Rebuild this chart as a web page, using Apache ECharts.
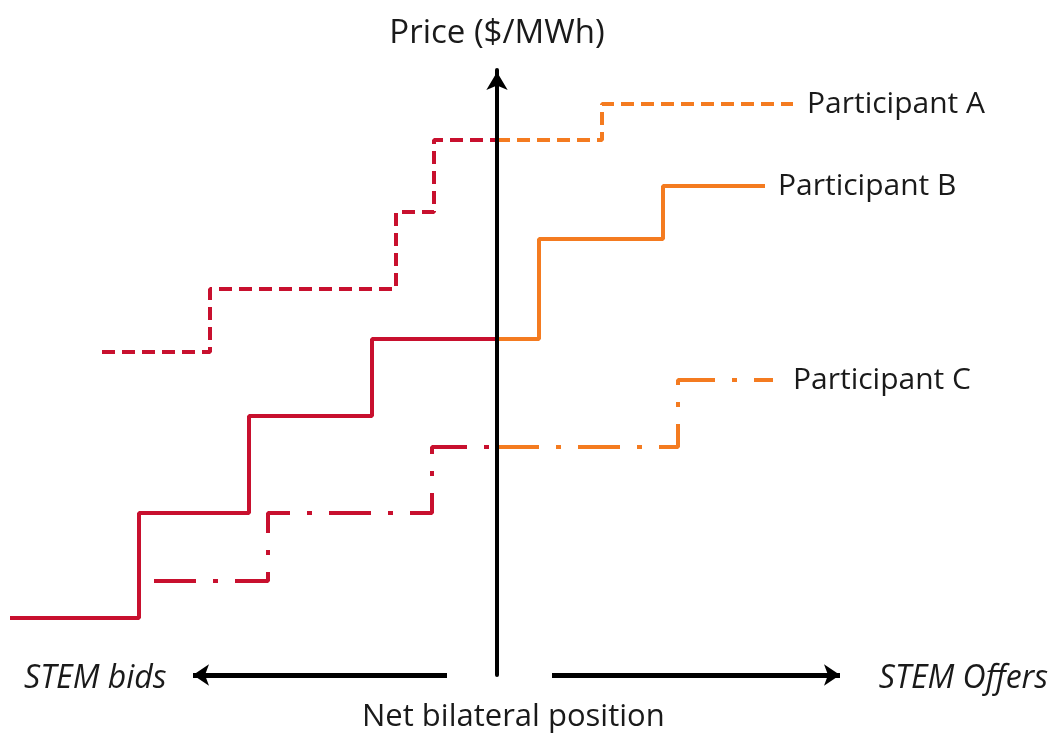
<!DOCTYPE html>
<html><head><meta charset="utf-8">
<script src="https://cdn.jsdelivr.net/npm/echarts@6/dist/echarts.min.js"></script>
<style>html,body{margin:0;padding:0;background:#fff}#c{width:1054px;height:735px}</style>
</head><body><div id="c"></div>
<script>
// Net bilateral position (x, MW-like units relative to 0) and price (y, $/MWh-like units)
const aBidX = [-395, -287, -101, -63, 0];
const aBidY = [32.3, 38.6, 46.3, 53.5, 53.5];
const aOfferX = [0, 105, 296];
const aOfferY = [53.5, 57.1, 57.1];
const bBidX = [-487, -358, -248, -125, 0];
const bBidY = [5.7, 16.2, 25.9, 33.6, 33.6];
const bOfferX = [0, 42, 166, 268];
const bOfferY = [33.6, 43.6, 48.9, 48.9];
const cBidX = [-343, -229, -65, 0];
const cBidY = [9.4, 16.2, 22.8, 22.8];
const cOfferX = [0, 181, 276];
const cOfferY = [22.8, 29.5, 29.5];
const names = ['Participant A', 'Participant B', 'Participant C'];
const bidArrow = [-50, -304];
const offerArrow = [55, 343];

const RED = '#C8102E', ORANGE = '#F47B20';
const FONT = 'Open Sans';
const zip = (xs, ys) => xs.map((x, i) => [x, ys[i]]);
const dashA = [13, 7];
const dashC = [42, 17, 5, 17];

function stepSeries(name, xs, ys, color, type, label, dist) {
  const s = {
    type: 'line', name: name, step: 'end', symbol: 'none', data: zip(xs, ys),
    lineStyle: { color: color, width: 4, type: type, cap: 'butt' },
    silent: true, animation: false, z: 3
  };
  if (label) {
    s.endLabel = { show: true, formatter: name, distance: dist, color: '#1a1a1a',
      fontFamily: FONT, fontSize: 30 };
  }
  return s;
}

const chart = echarts.init(document.getElementById('c'));
chart.setOption({
  animation: false,
  grid: { left: 0, right: 0, top: 70, bottom: 60 },
  xAxis: { type: 'value', min: -497, max: 557, axisLine: { show: false }, axisTick: { show: false },
    axisLabel: { show: false }, splitLine: { show: false } },
  yAxis: { type: 'value', min: 0, max: 60.5, z: 5,
    axisLine: { show: true, onZero: true, symbol: ['none', 'arrow'], symbolSize: [16, 18],
      symbolOffset: [0, -2], lineStyle: { color: '#000', width: 4 } },
    axisTick: { show: false }, axisLabel: { show: false }, splitLine: { show: false },
    name: 'Price ($/MWh)', nameLocation: 'end', nameGap: 20,
    nameTextStyle: { fontFamily: FONT, fontSize: 33, color: '#1a1a1a', align: 'center' } },
  series: [
    stepSeries(names[0], aBidX, aBidY, RED, dashA, false),
    stepSeries(names[0], aOfferX, aOfferY, ORANGE, dashA, true, 14),
    stepSeries(names[1], bBidX, bBidY, RED, 'solid', false),
    stepSeries(names[1], bOfferX, bOfferY, ORANGE, 'solid', true, 13),
    stepSeries(names[2], cBidX, cBidY, RED, dashC, false),
    stepSeries(names[2], cOfferX, cOfferY, ORANGE, dashC, true, 20),
    {
      type: 'line', data: [], silent: true,
      markLine: {
        silent: true, symbol: ['none', 'arrow'], symbolSize: [16, 16], label: { show: false },
        lineStyle: { color: '#000', width: 5, type: 'solid' },
        data: [
          [{ coord: [bidArrow[0], 0] }, { coord: [bidArrow[1], 0] }],
          [{ coord: [offerArrow[0], 0] }, { coord: [offerArrow[1], 0] }]
        ]
      }
    }
  ],
  graphic: [
    { type: 'text', left: 24, top: 663, style: { text: 'STEM bids', fontFamily: FONT, fontSize: 32, fontStyle: 'italic', fill: '#1a1a1a' } },
    { type: 'text', right: 6, top: 663, style: { text: 'STEM Offers', fontFamily: FONT, fontSize: 32, fontStyle: 'italic', fill: '#1a1a1a' } },
    { type: 'text', left: 362, top: 702, style: { text: 'Net bilateral position', fontFamily: FONT, fontSize: 31, fill: '#1a1a1a' } }
  ]
});
</script>
</body></html>
